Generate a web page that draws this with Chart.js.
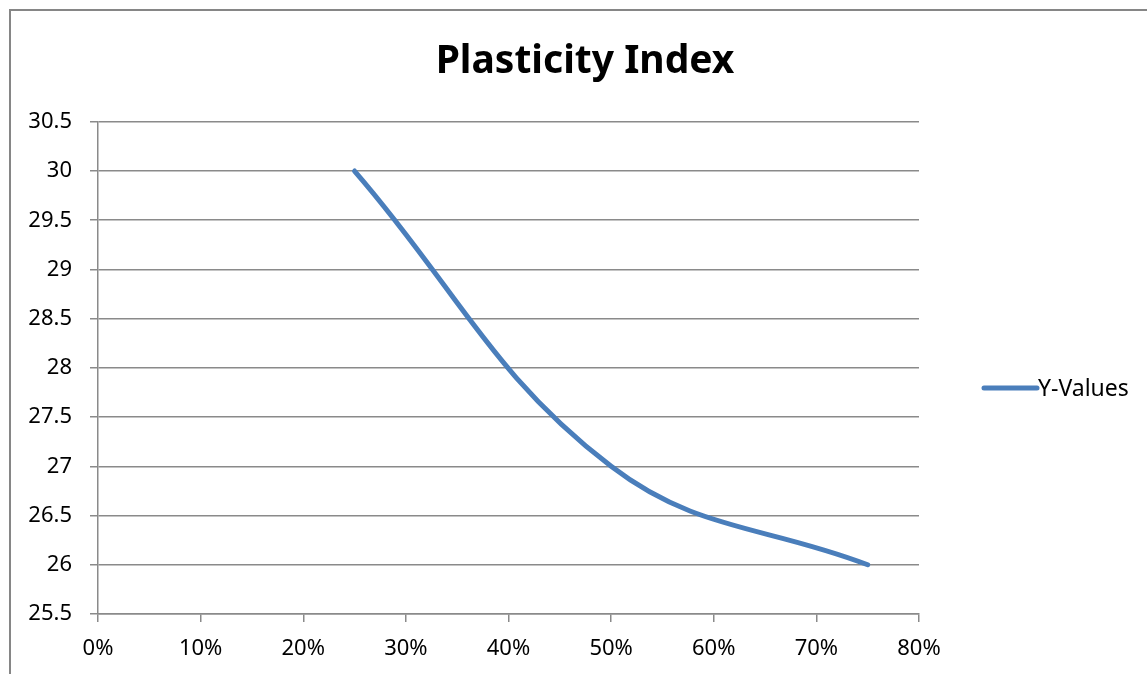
<!DOCTYPE html>
<html>
<head>
<meta charset="utf-8">
<script src="https://cdn.jsdelivr.net/npm/chart.js@4"></script>
<style>
  html, body { margin: 0; padding: 0; background: #fff; }
  canvas { display: block; }
</style>
</head>
<body>
<canvas id="piChart" width="1147" height="674"></canvas>
<script>
// data
const seriesName = 'Y-Values';
const xValues = [0.25, 0.50, 0.75];
const yValues = [30, 27, 26];
const xTicks = [0, 0.1, 0.2, 0.3, 0.4, 0.5, 0.6, 0.7, 0.8];
const yTicks = [25.5, 26, 26.5, 27, 27.5, 28, 28.5, 29, 29.5, 30, 30.5];

const lineColor = '#4a7ebb';
const gridColor = '#8a8a8a';
const fontFamily = "'Noto Sans', 'Open Sans', sans-serif";

const points = xValues.map((x, i) => ({ x: x, y: yValues[i] }));

// outer frame like the Excel chart border
const framePlugin = {
    id: 'frame',
    beforeDraw(chart) {
        const ctx = chart.ctx;
        ctx.save();
        ctx.fillStyle = '#fff';
        ctx.fillRect(0, 0, chart.width, chart.height);
        ctx.strokeStyle = '#868686';
        ctx.lineWidth = 2;
        ctx.strokeRect(10, 10, chart.width + 20, chart.height + 20);
        ctx.restore();
    }
};

// legend drawn to the right, Excel style
const sideLegend = {
    id: 'sideLegend',
    afterDraw(chart) {
        const ctx = chart.ctx;
        const y = 388;
        ctx.save();
        ctx.strokeStyle = lineColor;
        ctx.lineWidth = 5;
        ctx.lineCap = 'round';
        ctx.beginPath();
        ctx.moveTo(984, y);
        ctx.lineTo(1037, y);
        ctx.stroke();
        ctx.fillStyle = '#000';
        ctx.font = '23px ' + fontFamily;
        ctx.textBaseline = 'middle';
        ctx.fillText(chart.data.datasets[0].label, 1038, y + 1);
        ctx.restore();
    }
};

new Chart(document.getElementById('piChart'), {
    type: 'scatter',
    data: {
        datasets: [{
            label: seriesName,
            data: points,
            showLine: true,
            tension: 0.4,
            borderColor: lineColor,
            borderWidth: 5,
            borderCapStyle: 'round',
            pointRadius: 0,
            pointHoverRadius: 0
        }]
    },
    options: {
        responsive: false,
        animation: false,
        layout: { padding: { left: 23, top: 10, right: 0, bottom: 0 } },
        plugins: {
            legend: { display: false },
            tooltip: { enabled: false },
            title: {
                display: true,
                text: 'Plasticity Index',
                color: '#000',
                font: { family: fontFamily, size: 39, weight: 'bold' },
                padding: { top: 28, bottom: 37 }
            }
        },
        scales: {
            x: {
                type: 'linear',
                min: xTicks[0],
                max: xTicks[xTicks.length - 1],
                afterBuildTicks: axis => { axis.ticks = xTicks.map(v => ({ value: v })); },
                afterFit: axis => { axis.height = 60; },
                ticks: {
                    color: '#000',
                    font: { family: fontFamily, size: 22 },
                    padding: 14,
                    maxRotation: 0,
                    callback: v => Math.round(v * 100) + '%'
                },
                grid: {
                    drawOnChartArea: false,
                    color: gridColor,
                    lineWidth: 1.5,
                    tickLength: 8
                },
                border: { color: gridColor, width: 1.5 }
            },
            y: {
                min: yTicks[0],
                max: yTicks[yTicks.length - 1],
                afterBuildTicks: axis => { axis.ticks = yTicks.map(v => ({ value: v })); },
                afterFit: axis => { axis.width = 75; },
                ticks: {
                    color: '#000',
                    font: { family: fontFamily, size: 22 },
                    padding: 18,
                    callback: v => String(v)
                },
                grid: {
                    color: gridColor,
                    lineWidth: 1.5,
                    tickLength: 8
                },
                border: { color: gridColor, width: 1.5 }
            },
            // empty axis that only reserves the legend column on the right
            spacer: {
                type: 'linear',
                position: 'right',
                min: 0,
                max: 1,
                afterFit: axis => { axis.width = 228; },
                ticks: { display: false },
                grid: { display: false },
                border: { display: false }
            }
        }
    },
    plugins: [framePlugin, sideLegend]
});
</script>
</body>
</html>
